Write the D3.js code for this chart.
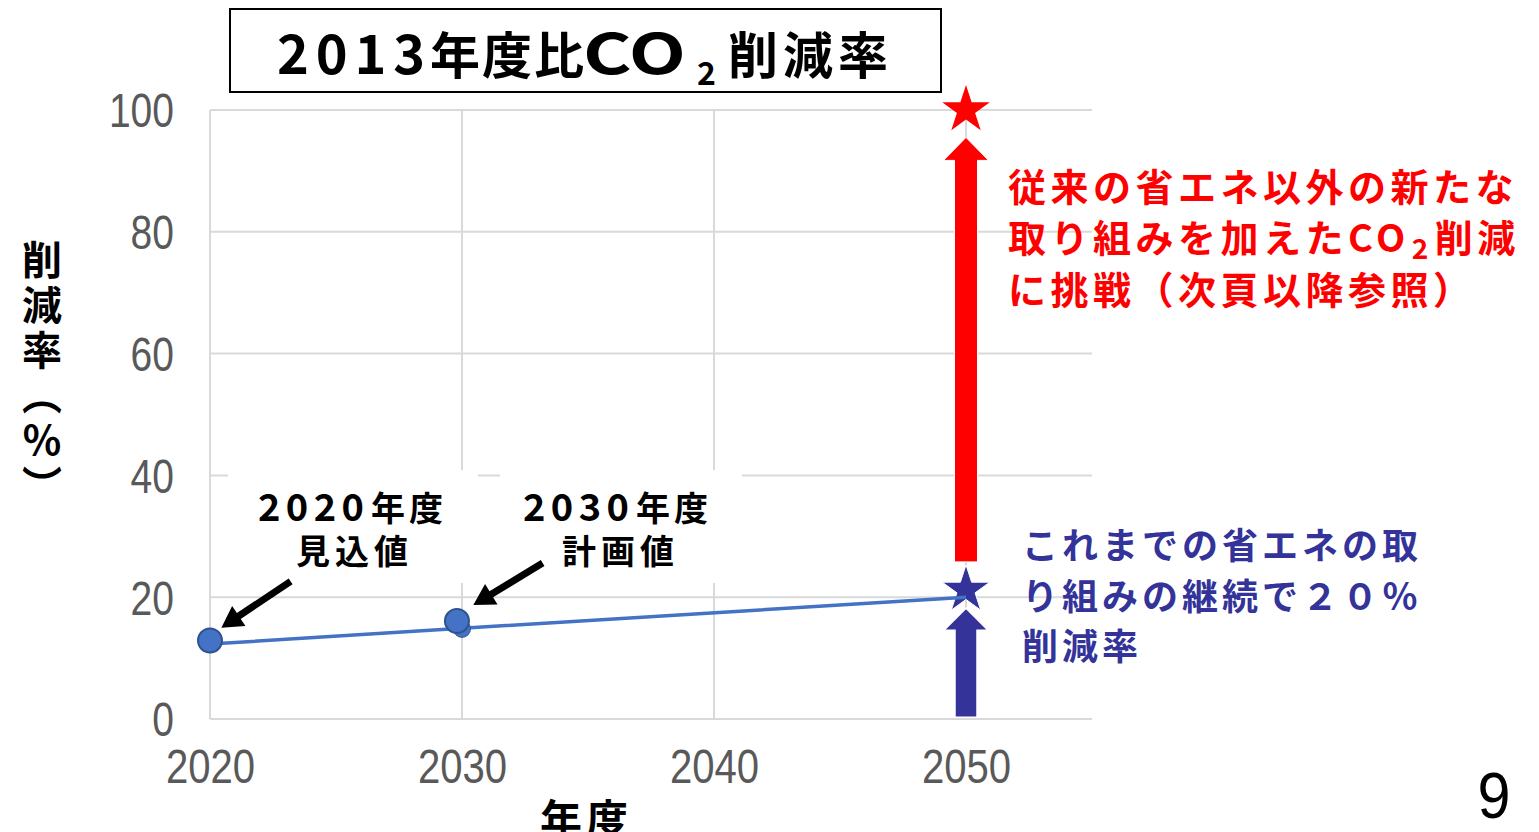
<!DOCTYPE html>
<html><head><meta charset="utf-8">
<script src="https://cdn.jsdelivr.net/npm/d3@7/dist/d3.min.js"></script>
<style>
html,body{margin:0;padding:0;background:#fff;}
svg{display:block;}
</style></head>
<body>
<svg id="chart" width="1539" height="832"></svg>
<script>
// ---- data ----
const xTicks = [2020, 2030, 2040, 2050];
const yTicks = [0, 20, 40, 60, 80, 100];
const lineYears = [2020, 2030, 2050];
const lineValues = [12.3, 14.9, 20];
const markerYears = [2020, 2029.8];
const markerValues = [12.9, 16.1];
const hiddenMarkerYears = [2030];
const hiddenMarkerValues = [14.8];
const targetYear = 2050;
const blueStarValue = 21.2;
const redStarValue = 100;
const blueArrowRange = [0.3, 18.2];
const redArrowRange = [25.8, 95.5];
const annoYears = ["2020", "2030"];
const annoSuffix = "年度";
const annoSecond = ["見込値", "計画値"];
const annoArrowFrom = [[2023.2, 22.6], [2033.2, 25.6]];
const annoArrowTo = [[2020.45, 15.0], [2030.45, 18.7]];
const titleParts = ["2013", "年度比", "CO", "2", "削減率"];
const redLines = ["従来の省エネ以外の新たな", "取り組みを加えたCO", "に挑戦（次頁以降参照）"];
const redLine2Tail = "削減";
const blueLines = ["これまでの省エネの取", "り組みの継続で２０％", "削減率"];
const xTitle = "年度";
const yTitle = "削減率（%）";
const pageNumber = "9";

// ---- setup ----
const svg = d3.select("#chart");
const x = d3.scaleLinear().domain([2020, 2055]).range([210, 1092]);
const y = d3.scaleLinear().domain([0, 100]).range([719, 110]);
const CJK = "'Noto Sans CJK JP', 'Noto Sans', sans-serif";
const GRID = "#d9d9d9";
const RED = "#ff0000";
const NAVY = "#333399";
const LINEBLUE = "#4472c4";

// grid
const g = svg.append("g");
g.selectAll(".hg").data(yTicks.filter(d => d > 0)).join("line")
  .attr("x1", x(2020)).attr("x2", x(2055)).attr("y1", d => y(d)).attr("y2", d => y(d))
  .attr("stroke", GRID).attr("stroke-width", 2);
g.selectAll(".vg").data(xTicks.filter(d => d > 2020)).join("line")
  .attr("x1", d => x(d)).attr("x2", d => x(d)).attr("y1", y(0)).attr("y2", y(100))
  .attr("stroke", GRID).attr("stroke-width", 2);
g.append("line").attr("x1", x(2020)).attr("x2", x(2020)).attr("y1", y(0)).attr("y2", y(100)).attr("stroke", GRID).attr("stroke-width", 2);
g.append("line").attr("x1", x(2020)).attr("x2", x(2055)).attr("y1", y(0)).attr("y2", y(0)).attr("stroke", GRID).attr("stroke-width", 2);

// axes tick labels
const xAxis = svg.append("g").attr("transform", `translate(0,${y(0)})`)
  .call(d3.axisBottom(x).tickValues(xTicks).tickSize(0).tickFormat(d3.format("d")));
xAxis.select(".domain").remove();
xAxis.selectAll("text").attr("y", 64).attr("dy", null)
  .attr("font-family", "'Liberation Sans', Arial, sans-serif").attr("font-size", 48)
  .attr("fill", "#595959")
  .attr("textLength", d => String(d).length * 22.3).attr("lengthAdjust", "spacingAndGlyphs");

const yAxis = svg.append("g").attr("transform", `translate(${x(2020)},0)`)
  .call(d3.axisLeft(y).tickValues(yTicks).tickSize(0).tickPadding(36));
yAxis.select(".domain").remove();
yAxis.selectAll("text").attr("dy", "0.35em")
  .attr("font-family", "'Liberation Sans', Arial, sans-serif").attr("font-size", 48)
  .attr("fill", "#595959")
  .attr("textLength", d => String(d).length * 21.7).attr("lengthAdjust", "spacingAndGlyphs");

// annotation boxes (white background) + labels
const annoBox = [[228, 470, 250, 113], [500, 470, 242, 113]];
const annoX = [258, 523];
const annoCenter = [352, 618];
const bold = s => s.attr("font-family", CJK).attr("font-weight", 700);
annoYears.forEach((yr, i) => {
  const b = annoBox[i];
  svg.append("rect").attr("x", b[0]).attr("y", b[1]).attr("width", b[2]).attr("height", b[3]).attr("fill", "#fff");
  bold(svg.append("text")).attr("x", annoX[i]).attr("y", 521).attr("font-size", 38)
    .attr("textLength", 106).attr("lengthAdjust", "spacing").text(yr);
  bold(svg.append("text")).attr("x", annoX[i] + 113).attr("y", 521).attr("font-size", 34)
    .attr("letter-spacing", 4).text(annoSuffix);
  bold(svg.append("text")).attr("x", annoCenter[i] + 2.5).attr("y", 564).attr("text-anchor", "middle")
    .attr("font-size", 34).attr("letter-spacing", 5).text(annoSecond[i]);
});

// arrow polygon helper
function arrowPoly(x1, y1, x2, y2, shaftW, headW, headL) {
  const dx = x2 - x1, dy = y2 - y1, L = Math.hypot(dx, dy);
  const ux = dx / L, uy = dy / L, nx = -uy, ny = ux;
  const bx = x2 - ux * headL, by = y2 - uy * headL;
  const p = [
    [x1 + nx * shaftW / 2, y1 + ny * shaftW / 2],
    [bx + nx * shaftW / 2, by + ny * shaftW / 2],
    [bx + nx * headW / 2, by + ny * headW / 2],
    [x2, y2],
    [bx - nx * headW / 2, by - ny * headW / 2],
    [bx - nx * shaftW / 2, by - ny * shaftW / 2],
    [x1 - nx * shaftW / 2, y1 - ny * shaftW / 2]
  ];
  return "M" + p.map(d => d.join(",")).join("L") + "Z";
}

// black annotation arrows
annoArrowFrom.forEach((f, i) => {
  const t = annoArrowTo[i];
  svg.append("path").attr("d", arrowPoly(x(f[0]), y(f[1]), x(t[0]), y(t[1]), 7, 24, 21)).attr("fill", "#000");
});

// big arrows
svg.append("path").attr("d", arrowPoly(x(targetYear), y(redArrowRange[0]), x(targetYear), y(redArrowRange[1]), 23, 45, 23))
  .attr("fill", RED).attr("stroke", "#fff").attr("stroke-width", 1);
svg.append("path").attr("d", arrowPoly(x(targetYear), y(blueArrowRange[0]), x(targetYear), y(blueArrowRange[1]), 22, 44, 22))
  .attr("fill", NAVY).attr("stroke", "#fff").attr("stroke-width", 1.5);

// stars
const star = d3.symbol().type(d3.symbolStar).size(702);
svg.append("path").attr("d", star()).attr("transform", `translate(${x(targetYear)},${y(redStarValue)})`).attr("fill", RED);
svg.append("path").attr("d", star()).attr("transform", `translate(${x(targetYear)},${y(blueStarValue)})`).attr("fill", NAVY)
  .attr("stroke", "#fff").attr("stroke-width", 1);

// series line
const lineData = lineYears.map((d, i) => [d, lineValues[i]]);
svg.append("path").datum(lineData)
  .attr("d", d3.line().x(d => x(d[0])).y(d => y(d[1])))
  .attr("fill", "none").attr("stroke", LINEBLUE).attr("stroke-width", 3.5);

// markers
svg.selectAll(".hm").data(hiddenMarkerYears.map((d, i) => [d, hiddenMarkerValues[i]])).join("circle")
  .attr("cx", d => x(d[0])).attr("cy", d => y(d[1])).attr("r", 8.5)
  .attr("fill", LINEBLUE).attr("stroke", "#2f528f").attr("stroke-width", 1);
svg.selectAll(".mk").data(markerYears.map((d, i) => [d, markerValues[i]])).join("circle")
  .attr("cx", d => x(d[0])).attr("cy", d => y(d[1])).attr("r", 12)
  .attr("fill", LINEBLUE).attr("stroke", "#2f528f").attr("stroke-width", 2);

// title
svg.append("rect").attr("x", 230).attr("y", 9).attr("width", 711).attr("height", 83)
  .attr("fill", "#fff").attr("stroke", "#000").attr("stroke-width", 2);
const tb = 74;
bold(svg.append("text")).attr("x", 277).attr("y", tb).attr("font-size", 54)
  .attr("textLength", 148).attr("lengthAdjust", "spacing").text(titleParts[0]);
bold(svg.append("text")).attr("x", 430).attr("y", tb).attr("font-size", 50)
  .attr("letter-spacing", 2).text(titleParts[1]);
bold(svg.append("text")).attr("x", 583).attr("y", tb).attr("font-size", 56)
  .attr("textLength", 103).attr("lengthAdjust", "spacingAndGlyphs").text(titleParts[2]);
bold(svg.append("text")).attr("x", 697).attr("y", 85).attr("font-size", 32).text(titleParts[3]);
bold(svg.append("text")).attr("x", 728).attr("y", tb).attr("font-size", 50)
  .attr("letter-spacing", 5).text(titleParts[4]);

// red text
const redY = [184, 235, 287];
redLines.forEach((t, i) => {
  const tx = bold(svg.append("text")).attr("x", 1008).attr("y", redY[i]).attr("dominant-baseline", "central")
    .attr("font-size", 38).attr("letter-spacing", 4.5).attr("fill", RED);
  if (i === 1) {
    tx.append("tspan").text(t);
    tx.append("tspan").attr("font-size", 28).attr("dx", 2).attr("dy", 12).text(titleParts[3]);
    tx.append("tspan").attr("dy", -12).attr("dx", 2).text(redLine2Tail);
  } else tx.text(t);
});

// blue text
const blueY = [543, 594, 644];
blueLines.forEach((t, i) => {
  bold(svg.append("text")).attr("x", 1022).attr("y", blueY[i]).attr("dominant-baseline", "central")
    .attr("font-size", 36).attr("letter-spacing", 4).attr("fill", NAVY).text(t);
});

// axis titles
bold(svg.append("text")).attr("x", 586).attr("y", 816).attr("dominant-baseline", "central")
  .attr("text-anchor", "middle").attr("font-size", 42).attr("letter-spacing", 4).text(xTitle);
bold(svg.append("text")).attr("x", 42).attr("y", 240)
  .style("writing-mode", "vertical-rl").style("text-orientation", "upright")
  .attr("font-size", 40).attr("letter-spacing", 5).text(yTitle);

// page number
svg.append("text").attr("x", 1494).attr("y", 818).attr("text-anchor", "middle")
  .attr("font-family", "'Liberation Sans', Arial, sans-serif").attr("font-size", 64)
  .attr("textLength", 33).attr("lengthAdjust", "spacingAndGlyphs").text(pageNumber);
</script>
</body></html>
